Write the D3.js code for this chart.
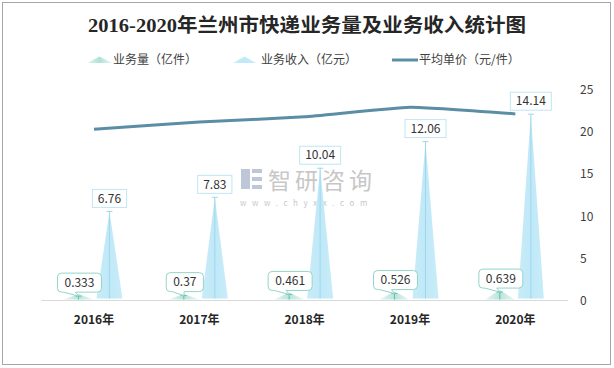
<!DOCTYPE html>
<html><head><meta charset="utf-8">
<script src="https://cdn.jsdelivr.net/npm/d3@7/dist/d3.min.js"></script>
<style>body{margin:0;background:#fff;}svg{display:block;}</style>
</head><body>
<svg id="chart" width="614" height="368"></svg>
<script>
const categories = ["2016年","2017年","2018年","2019年","2020年"];
const volume = [0.333, 0.37, 0.461, 0.526, 0.639];      // 业务量（亿件）
const revenue = [6.76, 7.83, 10.04, 12.06, 14.14];       // 业务收入（亿元）
const price = [20.3, 21.16, 21.78, 22.93, 22.13];        // 平均单价（元/件）
const rightTicks = [0, 5, 10, 15, 20, 25];
const seriesNames = ["业务量（亿件）", "业务收入（亿元）", "平均单价（元/件）"];
const title = "2016-2020年兰州市快递业务量及业务收入统计图";

const svg = d3.select("#chart");
const font = "'Noto Sans CJK SC', 'Noto Sans', sans-serif";
const defs = svg.append("defs");

const gSmall = defs.append("linearGradient").attr("id","gSmall").attr("x1","0").attr("x2","1").attr("y1","0").attr("y2","0");
gSmall.append("stop").attr("offset","0%").attr("stop-color","#e6f6f2");
gSmall.append("stop").attr("offset","50%").attr("stop-color","#b2e0d6");
gSmall.append("stop").attr("offset","100%").attr("stop-color","#e6f6f2");
const gBig = defs.append("linearGradient").attr("id","gBig").attr("x1","0").attr("x2","1").attr("y1","0").attr("y2","0");
gBig.append("stop").attr("offset","0%").attr("stop-color","#c8ecf9");
gBig.append("stop").attr("offset","50%").attr("stop-color","#c0e8f7");
gBig.append("stop").attr("offset","100%").attr("stop-color","#c8ecf9");

// outer border
svg.append("rect").attr("x",2.5).attr("y",2.5).attr("width",608).attr("height",362)
  .attr("fill","#fff").attr("stroke","#a6a6a6").attr("stroke-width",1);

// title
svg.append("text").attr("x",88).attr("y",32)
  .attr("textLength",438).attr("lengthAdjust","spacingAndGlyphs")
  .attr("font-family","'Liberation Serif','Noto Sans CJK SC',serif")
  .attr("font-weight","bold").attr("font-size",19).attr("fill","#262626").text(title);

// scales
const x = d3.scaleBand().domain(categories).range([41.3, 568]).padding(0);
const sub = d3.scalePoint().domain(["v","r"]).range([-15.5, 15.5]);
const yL = d3.scaleLinear().domain([0, 16]).range([300.5, 89.7]);
const yR = d3.scaleLinear().domain([0, 25]).range([300.5, 89.7]);
const cx = d => x(d) + x.bandwidth()/2;

// axis line
svg.append("line").attr("x1",41.3).attr("x2",568).attr("y1",300.5).attr("y2",300.5)
  .attr("stroke","#d9d9d9").attr("stroke-width",1);

// right axis
const rAxis = svg.append("g").attr("transform","translate(580,0)")
  .call(d3.axisRight(yR).tickValues(rightTicks).tickSize(0).tickPadding(0));
rAxis.select(".domain").remove();
rAxis.selectAll("text").attr("font-family",font).attr("font-size",12).attr("fill","#404040").attr("text-anchor","start");

// x axis labels
const xAxis = svg.append("g").attr("transform","translate(0,300.5)")
  .call(d3.axisBottom(x).tickSize(0).tickPadding(15));
xAxis.select(".domain").remove();
xAxis.selectAll("text").attr("font-family",font).attr("font-size",12).attr("font-weight","bold").attr("fill","#262626");

const hw = 13;
function tri(xc, ytop, base, half){ return `M${xc-half},${base}L${xc},${ytop}L${xc+half},${base}Z`; }

// watermark
const wm = svg.append("g").attr("opacity",0.55);
wm.append("rect").attr("x",241).attr("y",169).attr("width",9).attr("height",20).attr("fill","#8a9ab8");
wm.append("rect").attr("x",252).attr("y",169).attr("width",10).attr("height",4).attr("fill","#8a9ab8");
wm.append("rect").attr("x",252).attr("y",177).attr("width",10).attr("height",4).attr("fill","#8a9ab8");
wm.append("rect").attr("x",252).attr("y",185).attr("width",10).attr("height",4).attr("fill","#8a9ab8");
wm.append("text").attr("x",268).attr("y",181).attr("dy","0.35em").attr("font-family",font).attr("font-size",23).attr("letter-spacing","4").attr("fill","#9a9a9a").text("智研咨询");
wm.append("text").attr("x",240).attr("y",203).attr("dy","0.35em").attr("font-family",font).attr("font-size",8).attr("letter-spacing","5.6").attr("fill","#9a9a9a").text("www.chyxx.com");

// volume triangles
const gv = svg.append("g");
categories.forEach((c,i)=>{
  const xc = cx(c) + sub("v");
  const yt = yL(volume[i]);
  const base = 299.5;
  gv.append("path").attr("d", tri(xc, yt-2, base, 15)).attr("fill","url(#gSmall)").attr("opacity",0.9);
  gv.append("line").attr("x1",xc).attr("x2",xc).attr("y1",yt).attr("y2",base).attr("stroke","#5fc2ae").attr("stroke-width",1);
  gv.append("line").attr("x1",xc-3).attr("x2",xc+3).attr("y1",yt).attr("y2",yt).attr("stroke","#5fc2ae").attr("stroke-width",1);
});

// revenue triangles
const gr = svg.append("g");
categories.forEach((c,i)=>{
  const xc = cx(c) + sub("r");
  const yt = yL(revenue[i]);
  const base = 298.5;
  gr.append("path").attr("d", tri(xc, yt, base, hw)).attr("fill","url(#gBig)");
  gr.append("line").attr("x1",xc).attr("x2",xc).attr("y1",yt).attr("y2",base).attr("stroke","#9dd8ee").attr("stroke-width",1);
  gr.append("line").attr("x1",xc-3).attr("x2",xc+3).attr("y1",yt).attr("y2",yt).attr("stroke","#9dd8ee").attr("stroke-width",1);
});

// price line
const line = d3.line().x((d,i)=>cx(categories[i])).y(d=>yR(d)).curve(d3.curveCardinal.tension(0.6));
svg.append("path").datum(price).attr("d",line).attr("fill","none")
  .attr("stroke","#5b8ea6").attr("stroke-width",3).attr("stroke-linecap","butt");

// revenue labels
const lr = svg.append("g");
categories.forEach((c,i)=>{
  const xc = cx(c) + sub("r");
  const yt = yL(revenue[i]);
  const t = String(revenue[i]);
  const w = t.length*6.8 + 7, h = 18;
  lr.append("rect").attr("x",xc-w/2).attr("y",yt-4-h).attr("width",w).attr("height",h)
    .attr("fill","#fff").attr("stroke","#bfe6f4").attr("stroke-width",1);
  lr.append("text").attr("x",xc).attr("y",yt-4-h/2).attr("dy","0.35em").attr("text-anchor","middle")
    .attr("font-family",font).attr("font-size",12).attr("fill","#333").text(t);
});

// volume labels (callouts)
const lv = svg.append("g");
categories.forEach((c,i)=>{
  const xc = cx(c) + sub("v");
  const yt = yL(volume[i]);
  const t = String(volume[i]);
  const w = t.length*6.8 + 10, h = 19;
  const x0 = xc - w/2 + 1, yb = yt - 4, y0 = yb - h, r = 4;
  const tx = xc, ty = yt;
  const p = `M${x0+r},${y0}H${x0+w-r}Q${x0+w},${y0} ${x0+w},${y0+r}V${yb-r}Q${x0+w},${yb} ${x0+w-r},${yb}`+
            `H${x0+18}L${tx},${ty}L${x0+6},${yb}H${x0+r}Q${x0},${yb} ${x0},${yb-r}V${y0+r}Q${x0},${y0} ${x0+r},${y0}Z`;
  lv.append("path").attr("d",p).attr("fill","#fff").attr("stroke","#92d5c8").attr("stroke-width",1);
  lv.append("text").attr("x",x0+w/2).attr("y",y0+h/2).attr("dy","0.35em").attr("text-anchor","middle")
    .attr("font-family",font).attr("font-size",12).attr("fill","#333").text(t);
});

// legend
const lg = svg.append("g");
lg.append("path").attr("d","M87,63L99.5,56.5L112,63Z").attr("fill","url(#gSmall)");
lg.append("text").attr("x",113).attr("y",60).attr("dy","0.35em").attr("font-family",font).attr("font-size",12).attr("fill","#404040").text(seriesNames[0]);
lg.append("path").attr("d","M233,63L244.5,56.5L256,63Z").attr("fill","url(#gBig)");
lg.append("text").attr("x",261).attr("y",60).attr("dy","0.35em").attr("font-family",font).attr("font-size",12).attr("fill","#404040").text(seriesNames[1]);
lg.append("line").attr("x1",392).attr("x2",418).attr("y1",60).attr("y2",60).attr("stroke","#5b8ea6").attr("stroke-width",3);
lg.append("text").attr("x",419).attr("y",60).attr("dy","0.35em").attr("font-family",font).attr("font-size",12).attr("fill","#404040").text(seriesNames[2]);
</script>
</body></html>
